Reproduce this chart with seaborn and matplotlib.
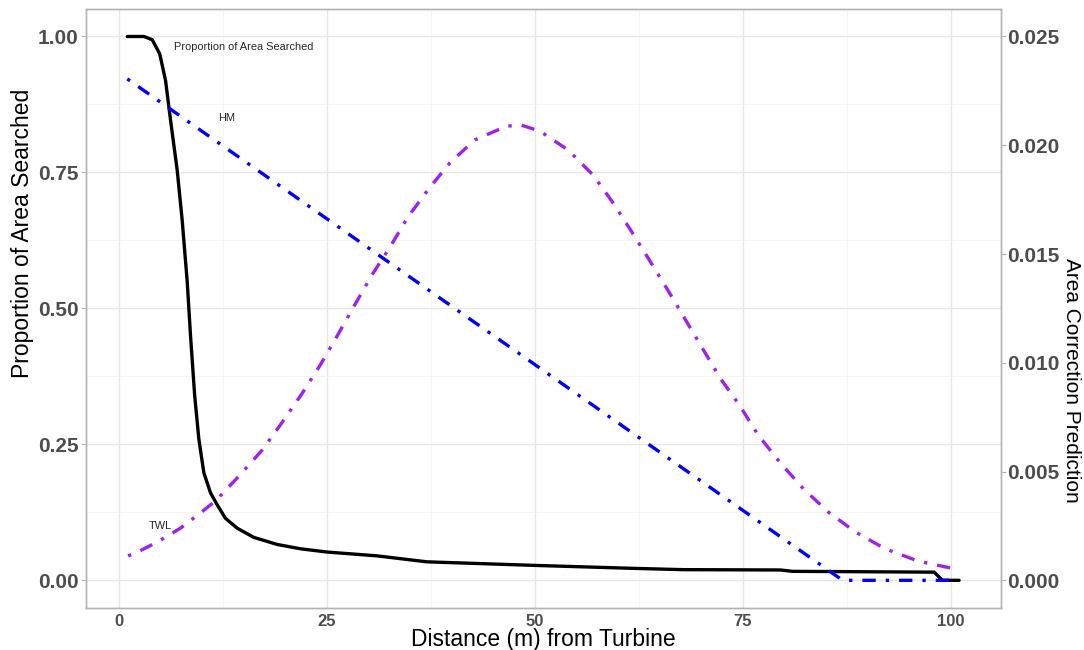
import matplotlib
matplotlib.use("Agg")
import matplotlib.pyplot as plt
import seaborn as sns
import pandas as pd
from matplotlib.ticker import MultipleLocator, FormatStrFormatter

# Proportion of the area searched at each distance (left axis)
searched_distance = [1, 3, 4, 4.9, 5.6, 6.2, 7, 7.6, 8.2, 8.6, 9.1, 9.6, 10.2, 11, 11.8,
                     12.8, 14.2, 16.2, 19, 21.8, 25, 31, 37, 49.8, 61.8, 67.8, 79.5, 81,
                     98, 99, 101]
searched_prop = [1.0, 1.0, 0.994, 0.968, 0.919, 0.846, 0.754, 0.662, 0.55, 0.45, 0.34, 0.26,
                 0.198, 0.161, 0.139, 0.114, 0.096, 0.079, 0.066, 0.058, 0.052, 0.045, 0.034,
                 0.0275, 0.022, 0.0196, 0.019, 0.0165, 0.015, 0.0, 0.0]

# TWL area correction prediction (right axis)
twl_distance = [1.1, 2.5, 4.8, 7.4, 9.8, 11.6, 14.4, 17.2, 19.6, 22.0, 24.2, 26.3, 28.3, 30.4,
                32.6, 34.7, 37.2, 39.8, 42.8, 46.6, 48.4, 50.6, 54.0, 57.0, 59.4, 61.6, 63.8,
                66.0, 68.1, 70.2, 72.3, 74.6, 76.8, 79.5, 82.3, 85.3, 88.5, 92.1, 96.1, 100.3]
twl_pred = [0.00112, 0.00135, 0.0018, 0.0024, 0.0031, 0.00365, 0.00478, 0.00598, 0.00725,
            0.00858, 0.0099, 0.01128, 0.01263, 0.01403, 0.01533, 0.01668, 0.01798, 0.0192,
            0.02025, 0.02088, 0.02092, 0.02065, 0.01978, 0.01863, 0.01735, 0.01605, 0.0147,
            0.01333, 0.01198, 0.01063, 0.00928, 0.00805, 0.0067, 0.0054, 0.0042, 0.00313,
            0.00223, 0.00145, 0.00088, 0.00054]

# HM area correction prediction (right axis)
hm_distance = [1, 87, 100]
hm_pred = [0.02305, 0.0, 0.0]

x_ticks = [0, 25, 50, 75, 100]
left_ticks = [0.0, 0.25, 0.5, 0.75, 1.0]
right_ticks = [0.0, 0.005, 0.01, 0.015, 0.02, 0.025]

sns.set_theme(style="white")
plt.rcParams["font.family"] = ["Liberation Sans", "DejaVu Sans"]

W, H = 1084, 650
fig = plt.figure(figsize=(W / 100, H / 100), dpi=100)
L, R, T, B = 85.7, 1000.7, 9.3, 607.5
ax = fig.add_axes([L / W, 1 - B / H, (R - L) / W, (B - T) / H])
ax2 = ax.twinx()

border = "#B3B3B3"
tick_col = "#4D4D4D"

# grid
ax.set_xlim(-4, 106)
ax.set_ylim(-0.05, 1.05)
ax2.set_ylim(-0.05 * 0.025, 1.05 * 0.025)
ax.xaxis.set_major_locator(MultipleLocator(25))
ax.xaxis.set_minor_locator(MultipleLocator(12.5))
ax.yaxis.set_major_locator(MultipleLocator(0.25))
ax.yaxis.set_minor_locator(MultipleLocator(0.125))
ax.grid(True, which="major", color="#E6E6E6", linewidth=0.9)
ax.grid(True, which="minor", color="#F2F2F2", linewidth=0.6)
ax.set_axisbelow(True)
ax2.grid(False)

df_s = pd.DataFrame({"d": searched_distance, "p": searched_prop})
df_t = pd.DataFrame({"d": twl_distance, "p": twl_pred})
df_h = pd.DataFrame({"d": hm_distance, "p": hm_pred})

sns.lineplot(data=df_s, x="d", y="p", ax=ax, color="black", linewidth=2.4)
sns.lineplot(data=df_t, x="d", y="p", ax=ax2, color="#A020F0", linewidth=2.4)
sns.lineplot(data=df_h, x="d", y="p", ax=ax2, color="#0000FF", linewidth=2.4)
for ln in ax2.lines:
    ln.set_dashes([1, 3, 4, 3])
    ln.set_dash_capstyle("butt")

ax.set_xticks(x_ticks)
ax.set_yticks(left_ticks)
ax2.set_yticks(right_ticks)
ax.yaxis.set_major_formatter(FormatStrFormatter("%.2f"))
ax2.yaxis.set_major_formatter(FormatStrFormatter("%.3f"))

for a in (ax, ax2):
    for s in a.spines.values():
        s.set_color(border)
        s.set_linewidth(1.0)
    a.tick_params(which="major", length=3.5, width=0.8, color=border, pad=1.5)
    a.tick_params(which="minor", length=0)

ax.tick_params(axis="y", labelsize=15, labelcolor=tick_col)
ax.tick_params(axis="x", labelsize=12, labelcolor=tick_col, pad=1)
ax2.tick_params(axis="y", labelsize=15, labelcolor=tick_col, pad=1)
for lab in ax.get_xticklabels() + ax.get_yticklabels() + ax2.get_yticklabels():
    lab.set_fontweight("bold")

ax.set_xlabel("")
ax.set_ylabel("")
ax2.set_ylabel("")
fig.text(543 / W, 1 - 646 / H, "Distance (m) from Turbine", fontsize=16.5,
         color="black", ha="center", va="baseline")
fig.text(23 / W, 1 - 233 / H, "Proportion of Area Searched", fontsize=16.5,
         color="black", ha="center", va="center", rotation=90)
fig.text(1071 / W, 1 - 380 / H, "Area Correction Prediction", fontsize=15,
         color="black", ha="center", va="center", rotation=270)

ax.text(15, 0.98, "Proportion of Area Searched", fontsize=7.9, ha="center", va="center")
ax.text(13, 0.85, "HM", fontsize=7.9, ha="center", va="center")
ax.text(5, 0.10, "TWL", fontsize=7.9, ha="center", va="center")

fig.savefig("out.png", dpi=100)
